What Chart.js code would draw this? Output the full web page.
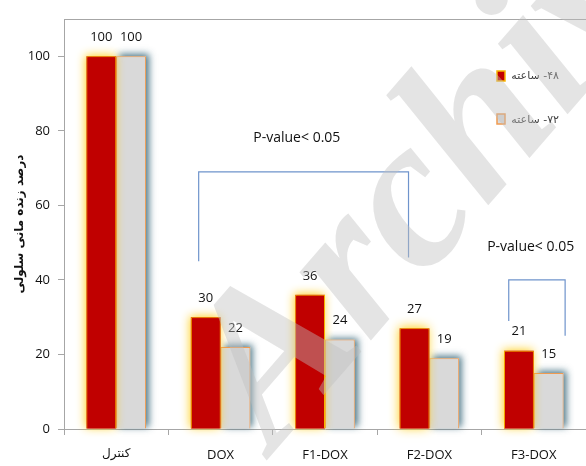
<!DOCTYPE html>
<html>
<head>
<meta charset="utf-8">
<script src="https://cdn.jsdelivr.net/npm/chart.js@4.4.1/dist/chart.umd.min.js"></script>
<style>
    html, body { margin: 0; padding: 0; background: #fff; }
    #chart-container { width: 586px; height: 466px; }
</style>
</head>
<body>
<div id="chart-container"><canvas id="viabilityChart" width="586" height="466"></canvas></div>
<script>
const categories = ['کنترل', 'DOX', 'F1-DOX', 'F2-DOX', 'F3-DOX'];
const seriesNames = ['۴۸- ساعته', '۷۲- ساعته'];
const values48h = [100, 30, 36, 27, 21];
const values72h = [100, 22, 24, 19, 15];
const yTickValues = [0, 20, 40, 60, 80, 100];
const yAxisTitle = 'درصد زنده مانی سلولی';
const pValueLabel = 'P-value< 0.05';
const watermarkText = 'Archive';

// significance brackets, given as [category index, offset in category widths] and y values
const brackets = [
    { left: [1, -0.21], right: [3, -0.20], top: 69, leftEnd: 45, rightEnd: 46, text: [2, -0.27, 78] },
    { left: [4, -0.24], right: [4, 0.30], top: 40, leftEnd: 29, rightEnd: 25, text: [4, -0.03, 48.7] }
];

class ViabilityChart {

    static font = "'Open Sans', sans-serif";
    static arabicFont = "'DejaVu Sans', sans-serif";
    static axisColor = '#a6a6a6';
    static glow = [
        { color: 'rgba(255, 205, 20, 0.95)', blur: 10, dx: -1, dy: -1 },
        { color: 'rgba(45, 95, 115, 0.85)', blur: 7, dx: 3, dy: -2 }
    ];

    constructor(canvas) {
        this.canvas = canvas;
    }

    render() {
        const config = {
            type: 'bar',
            data: {
                labels: categories,
                datasets: [{
                    label: seriesNames[0],
                    data: values48h,
                    backgroundColor: '#c00000',
                    borderColor: '#f7b500',
                    borderWidth: 1
                }, {
                    label: seriesNames[1],
                    data: values72h,
                    backgroundColor: '#d9d9d9',
                    borderColor: '#f09a50',
                    borderWidth: 1
                }]
            },
            options: {
                responsive: false,
                animation: false,
                devicePixelRatio: 1,
                layout: { padding: { top: 19, left: 0, right: 0, bottom: 0 } },
                datasets: { bar: { categoryPercentage: 0.57, barPercentage: 1.0 } },
                plugins: { legend: { display: false }, tooltip: { enabled: false } },
                scales: {
                    x: {
                        grid: { drawOnChartArea: false, tickLength: 6, color: ViabilityChart.axisColor },
                        border: { color: ViabilityChart.axisColor },
                        ticks: {
                            color: '#111',
                            padding: 12,
                            font: (ctx) => ({ family: ctx.index === 0 ? ViabilityChart.arabicFont : ViabilityChart.font, size: ctx.index === 0 ? 12 : 13 })
                        },
                        afterFit: (scale) => { scale.height = 37; }
                    },
                    y: {
                        min: 0,
                        max: 110,
                        afterBuildTicks: (scale) => { scale.ticks = yTickValues.map(v => ({ value: v })); },
                        grid: { drawOnChartArea: false, tickLength: 6, color: ViabilityChart.axisColor },
                        border: { color: ViabilityChart.axisColor },
                        ticks: { color: '#111', padding: 8, font: { family: ViabilityChart.font, size: 13 } },
                        title: {
                            display: true,
                            text: yAxisTitle,
                            color: '#111',
                            padding: { top: 13, bottom: 2 },
                            font: { family: ViabilityChart.arabicFont, size: 12, weight: 'bold' }
                        },
                        afterFit: (scale) => { scale.width = 64; }
                    }
                }
            },
            plugins: [this.glowPlugin(), this.overlayPlugin()]
        };
        this.chart = new Chart(this.canvas, config);
    }

    // the bar element clips to its own box when it has a border, so the glow is painted underneath first
    glowPlugin() {
        return {
            id: 'barGlow',
            beforeDatasetDraw(chart, args) {
                const ctx = chart.ctx;
                const g = ViabilityChart.glow[args.index];
                const fill = chart.data.datasets[args.index].backgroundColor;
                ctx.save();
                ctx.shadowColor = g.color;
                ctx.shadowBlur = g.blur;
                ctx.shadowOffsetX = g.dx;
                ctx.shadowOffsetY = g.dy;
                ctx.fillStyle = fill;
                args.meta.data.forEach((bar) => {
                    const p = bar.getProps(['x', 'y', 'base', 'width'], true);
                    ctx.fillRect(p.x - p.width / 2, p.y, p.width, p.base - p.y);
                });
                ctx.restore();
            }
        };
    }

    overlayPlugin() {
        return {
            id: 'overlay',
            afterDraw: (chart) => {
                const ctx = chart.ctx;
                const area = chart.chartArea;
                const x = chart.scales.x;
                const y = chart.scales.y;
                const catW = (area.right - area.left) / categories.length;
                const px = (pos) => x.getPixelForValue(pos[0]) + pos[1] * catW;

                // top frame line of plot area
                ctx.save();
                ctx.strokeStyle = ViabilityChart.axisColor;
                ctx.lineWidth = 1;
                ctx.beginPath();
                ctx.moveTo(area.left, area.top + 0.5);
                ctx.lineTo(area.right, area.top + 0.5);
                ctx.stroke();

                // value labels
                ctx.fillStyle = '#111';
                ctx.font = '13px ' + ViabilityChart.font;
                ctx.textAlign = 'center';
                ctx.textBaseline = 'middle';
                chart.data.datasets.forEach((ds, i) => {
                    chart.getDatasetMeta(i).data.forEach((bar, j) => {
                        ctx.fillText(String(ds.data[j]), bar.x, bar.y - 19);
                    });
                });

                // brackets
                ctx.strokeStyle = '#6f94cc';
                ctx.lineWidth = 1.2;
                ctx.font = '14px ' + ViabilityChart.font;
                brackets.forEach((b) => {
                    const xl = px(b.left), xr = px(b.right);
                    ctx.beginPath();
                    ctx.moveTo(xl, y.getPixelForValue(b.leftEnd));
                    ctx.lineTo(xl, y.getPixelForValue(b.top));
                    ctx.lineTo(xr, y.getPixelForValue(b.top));
                    ctx.lineTo(xr, y.getPixelForValue(b.rightEnd));
                    ctx.stroke();
                    ctx.fillText(pValueLabel, px(b.text), y.getPixelForValue(b.text[2]));
                });

                // legend
                const lx = area.left + 433;
                const items = [
                    { fill: '#c00000', stroke: '#f7b500', top: 71, textY: 76 },
                    { fill: '#d9d9d9', stroke: '#f09a50', top: 114, textY: 120 }
                ];
                ctx.font = '11px ' + ViabilityChart.arabicFont;
                ctx.textBaseline = 'middle';
                items.forEach((it, i) => {
                    ctx.fillStyle = it.fill;
                    ctx.fillRect(lx, it.top, 8, 10);
                    ctx.strokeStyle = it.stroke;
                    ctx.lineWidth = 1.5;
                    ctx.strokeRect(lx, it.top, 8, 10);
                    ctx.fillStyle = '#404040';
                    ctx.direction = 'rtl';
                    ctx.textAlign = 'right';
                    ctx.fillText(seriesNames[i], lx + 62, it.textY);
                    ctx.direction = 'ltr';
                });

                // watermark
                ctx.translate(274, 452);
                ctx.rotate(-49 * Math.PI / 180);
                ctx.font = "italic bold 215px 'Liberation Serif', serif";
                ctx.fillStyle = 'rgba(190, 190, 190, 0.42)';
                ctx.textAlign = 'left';
                ctx.textBaseline = 'alphabetic';
                ctx.fillText(watermarkText, 0, 0);
                ctx.restore();
            }
        };
    }
}

const viability = new ViabilityChart(document.getElementById('viabilityChart'));
viability.render();
</script>
</body>
</html>
